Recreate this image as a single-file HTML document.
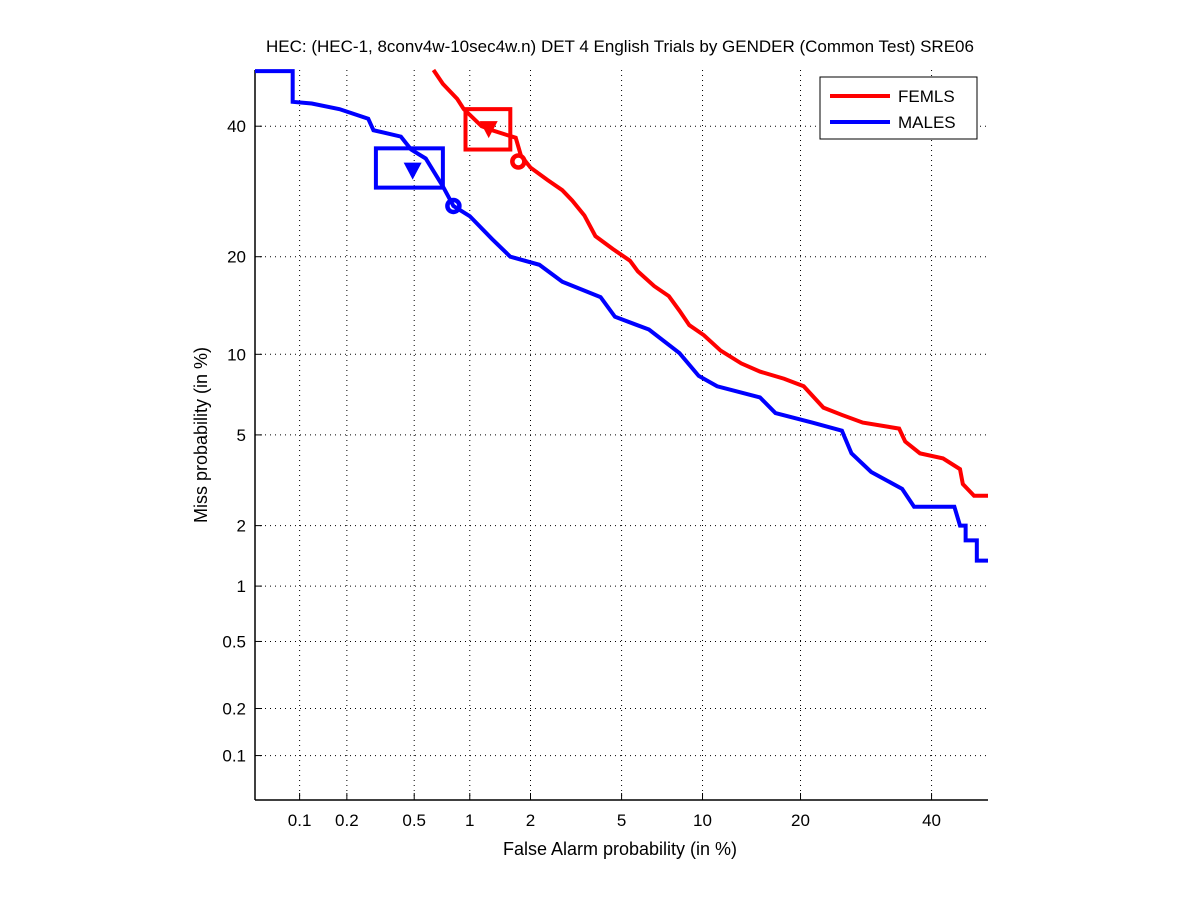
<!DOCTYPE html>
<html><head><meta charset="utf-8"><style>
body{margin:0;background:#fff;font-family:"Liberation Sans",sans-serif}
svg text{font-family:"Liberation Sans",sans-serif;fill:#000}
</style></head><body>
<svg id="c" width="1201" height="900" xmlns="http://www.w3.org/2000/svg"></svg>
<script>
const xTicks=[0.1,0.2,0.5,1,2,5,10,20,40];
const yTicks=[0.1,0.2,0.5,1,2,5,10,20,40];
const tickLabels=["0.1","0.2","0.5","1","2","5","10","20","40"];
const femFA=[0.64,0.72,0.86,0.93,1.0,1.15,1.3,1.5,1.7,1.8,2.0,2.4,2.8,3.1,3.5,3.9,4.6,5.4,5.8,6.7,7.6,8.3,9.0,10.1,11.5,13.4,15.3,18,20.4,23,25.6,28.7,34.5,35.5,38,42,45,45.5,47.5,50];
const femMiss=[50,47.5,44.8,43,42,40,39.3,38.6,38,35,33,31,29.4,27.8,25.6,22.7,21,19.5,18.2,16.5,15.4,13.9,12.5,11.6,10.3,9.3,8.7,8.2,7.7,6.4,6.0,5.6,5.3,4.7,4.2,4.0,3.6,3.1,2.75,2.75];
const maleFA=[0.05,0.09,0.09,0.12,0.18,0.27,0.29,0.42,0.48,0.58,0.72,0.82,1.0,1.3,1.6,2.2,2.8,4.1,4.7,6.4,8.3,9.7,11.2,15.3,17,21.5,25.6,27,30,35,37,44,45,46,46,48,48,50];
const maleMiss=[49.8,49.8,44.3,44,43,41.3,39.3,38.2,36,34.5,30,27,25.5,22.3,20,19,17,15.3,13.3,12.1,10.1,8.4,7.7,7,6.1,5.6,5.2,4.2,3.5,2.95,2.45,2.45,2.0,2.0,1.7,1.7,1.35,1.35];
const femPts={box:[0.95,1.6,36,43],tri:[1.25,39.5],circ:[1.75,34]};
const malePts={box:[0.3,0.72,29.8,36.2],tri:[0.49,32.5],circ:[0.82,27]};

function probit(p){
 const a=[-3.969683028665376e+01,2.209460984245205e+02,-2.759285104469687e+02,1.383577518672690e+02,-3.066479806614716e+01,2.506628277459239e+00];
 const b=[-5.447609879822406e+01,1.615858368580409e+02,-1.556989798598866e+02,6.680131188771972e+01,-1.328068155288572e+01];
 const c=[-7.784894002430293e-03,-3.223964580411365e-01,-2.400758277161838e+00,-2.549732539343734e+00,4.374664141464968e+00,2.938163982698783e+00];
 const d=[7.784695709041462e-03,3.224671290700398e-01,2.445134137142996e+00,3.754408661907416e+00];
 const pl=0.02425;let q,r;
 if(p<pl){q=Math.sqrt(-2*Math.log(p));return (((((c[0]*q+c[1])*q+c[2])*q+c[3])*q+c[4])*q+c[5])/((((d[0]*q+d[1])*q+d[2])*q+d[3])*q+1);}
 if(p<=1-pl){q=p-0.5;r=q*q;return (((((a[0]*r+a[1])*r+a[2])*r+a[3])*r+a[4])*r+a[5])*q/(((((b[0]*r+b[1])*r+b[2])*r+b[3])*r+b[4])*r+1);}
 q=Math.sqrt(-2*Math.log(1-p));return -(((((c[0]*q+c[1])*q+c[2])*q+c[3])*q+c[4])*q+c[5])/((((d[0]*q+d[1])*q+d[2])*q+d[3])*q+1);
}
const L=255,R=988,T=70,B=800,pmin=probit(0.0005),pmax=0;
const X=v=>L+(probit(v/100)-pmin)/(pmax-pmin)*(R-L);
const Y=v=>B-(probit(v/100)-pmin)/(pmax-pmin)*(B-T);
const svg=document.getElementById('c');const NS='http://www.w3.org/2000/svg';
function mk(t,at,name,txt){const e=document.createElementNS(NS,t);for(const k in at)e.setAttribute(k,at[k]);


if(txt!==undefined)e.textContent=txt;svg.appendChild(e);return e;}
xTicks.forEach((v,i)=>{const x=X(v);mk('line',{x1:x,x2:x,y1:T,y2:B,stroke:'#000','stroke-width':1,'stroke-dasharray':'1,4'},'x-grid-line');
mk('line',{x1:x,x2:x,y1:B,y2:B-7,stroke:'#000'},'x-tick');
mk('text',{x:x,y:B+26,'text-anchor':'middle','font-size':17},'x-tick-label',tickLabels[i]);});
yTicks.forEach((v,i)=>{const y=Y(v);mk('line',{x1:L,x2:R,y1:y,y2:y,stroke:'#000','stroke-width':1,'stroke-dasharray':'1,4'},'y-grid-line');
mk('line',{x1:L,x2:L+7,y1:y,y2:y,stroke:'#000'},'y-tick');
mk('text',{x:L-9,y:y+6,'text-anchor':'end','font-size':17},'y-tick-label',tickLabels[i]);});
mk('line',{x1:L,x2:L,y1:T,y2:B,stroke:'#000','stroke-width':1.5},'y-axis-line');
mk('line',{x1:L,x2:R,y1:B,y2:B,stroke:'#000','stroke-width':1.5},'x-axis-line');
function series(fa,miss,col,name,pts){
 mk('polyline',{points:fa.map((v,i)=>X(v)+','+Y(miss[i])).join(' '),fill:'none',stroke:col,'stroke-width':4},name+'-curve');
 const b=pts.box;mk('rect',{x:X(b[0]),y:Y(b[3]),width:X(b[1])-X(b[0]),height:Y(b[2])-Y(b[3]),fill:'none',stroke:col,'stroke-width':4},name+'-confidence-box');
 const tx=X(pts.tri[0]),ty=Y(pts.tri[1]);
 mk('polygon',{points:`${tx-9},${ty-8} ${tx+9},${ty-8} ${tx},${ty+9}`,fill:col},name+'-actual-dcf-marker');
 mk('circle',{cx:X(pts.circ[0]),cy:Y(pts.circ[1]),r:6,fill:'none',stroke:col,'stroke-width':4.5},name+'-min-dcf-marker');
}
series(femFA,femMiss,'#f00','femls',femPts);
series(maleFA,maleMiss,'#00f','males',malePts);
mk('text',{x:620,y:52,'text-anchor':'middle','font-size':17},'chart-title','HEC: (HEC-1, 8conv4w-10sec4w.n) DET 4 English Trials by GENDER (Common Test) SRE06');
mk('text',{x:620,y:855,'text-anchor':'middle','font-size':18},'x-axis-title','False Alarm probability (in %)');
mk('text',{x:207,y:435,'text-anchor':'middle','font-size':18,transform:'rotate(-90 207 435)'},'y-axis-title','Miss probability (in %)');
mk('rect',{x:820,y:77,width:157,height:62,fill:'#fff',stroke:'#000','stroke-width':1},'legend-box');
mk('line',{x1:830,x2:890,y1:96,y2:96,stroke:'#f00','stroke-width':4},'legend-femls-line');
mk('text',{x:898,y:102,'font-size':17},'legend-femls-label','FEMLS');
mk('line',{x1:830,x2:890,y1:122,y2:122,stroke:'#00f','stroke-width':4},'legend-males-line');
mk('text',{x:898,y:128,'font-size':17},'legend-males-label','MALES');
</script>
</body></html>
